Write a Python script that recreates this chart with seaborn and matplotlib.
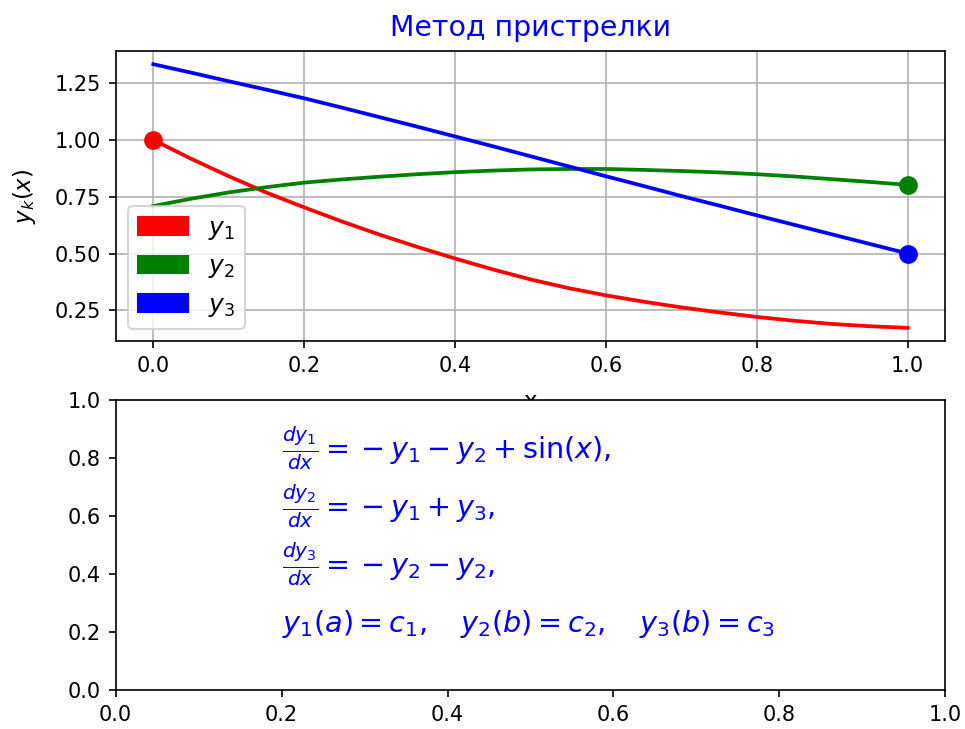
import matplotlib
matplotlib.use("Agg")
import matplotlib.pyplot as plt
from matplotlib.patches import Patch
import pandas as pd
import seaborn as sns

# Shooting-method solution of the boundary value problem on [0, 1]
x_vals = [0.00, 0.05, 0.10, 0.15, 0.20, 0.25, 0.30, 0.35, 0.40, 0.45, 0.50,
          0.55, 0.60, 0.65, 0.70, 0.75, 0.80, 0.85, 0.90, 0.95, 1.00]
y1_vals = [1.000, 0.917, 0.840, 0.768, 0.703, 0.641, 0.583, 0.529, 0.478, 0.430, 0.386,
           0.348, 0.316, 0.288, 0.263, 0.241, 0.221, 0.204, 0.190, 0.180, 0.173]
y2_vals = [0.709, 0.741, 0.769, 0.792, 0.812, 0.826, 0.838, 0.849, 0.858, 0.865, 0.870,
           0.872, 0.872, 0.868, 0.863, 0.857, 0.849, 0.839, 0.827, 0.815, 0.802]
y3_vals = [1.333, 1.296, 1.258, 1.221, 1.183, 1.142, 1.100, 1.058, 1.015, 0.972, 0.928,
           0.884, 0.840, 0.797, 0.753, 0.711, 0.668, 0.626, 0.584, 0.542, 0.500]

series_names = ["$y_1$", "$y_2$", "$y_3$"]
series_colors = ["red", "green", "blue"]

# Boundary conditions: y1(a)=c1, y2(b)=c2, y3(b)=c3
bc_x = [0.0, 1.0, 1.0]
bc_y = [1.0, 0.8, 0.5]

title_text = "Метод пристрелки"
equations = [
    r"$\frac{dy_1}{dx} = {} - y_1 - y_2 + \sin(x),$",
    r"$\frac{dy_2}{dx} = {} - y_1 + y_3,$",
    r"$\frac{dy_3}{dx} = {} - y_2 - y_2,$",
    r"$y_1(a) = c_1, \quad y_2(b) = c_2, \quad y_3(b) = c_3$",
]
eq_y = [0.8, 0.6, 0.4, 0.2]

plt.style.use("default")
plt.rcParams["font.family"] = ["DejaVu Sans"]

df = pd.DataFrame({
    "x": x_vals * 3,
    "y": y1_vals + y2_vals + y3_vals,
    "series": [series_names[0]] * len(x_vals)
    + [series_names[1]] * len(x_vals)
    + [series_names[2]] * len(x_vals),
})

fig = plt.figure(figsize=(965 / 150, 729 / 150), dpi=150)
ax1 = fig.add_axes([0.1198, 0.5322, 0.8599, 0.3978])
ax2 = fig.add_axes([0.1198, 0.0535, 0.8599, 0.3978])

sns.lineplot(data=df, x="x", y="y", hue="series", palette=series_colors,
             sort=False, linewidth=1.8, legend=False, ax=ax1)
for bx, by, c in zip(bc_x, bc_y, series_colors):
    ax1.plot([bx], [by], "o", color=c, markersize=8)

ax1.grid(True)
ax1.set_title(title_text, color="blue", fontsize=13.6, pad=7)
ax1.set_xlabel("x", fontsize=11, labelpad=7)
ax1.set_ylabel("$y_k(x)$", fontsize=11, labelpad=8)

handles = [Patch(color=c, label=n) for c, n in zip(series_colors, series_names)]
ax1.legend(handles=handles, loc="lower left", fontsize=12)

ax2.set_xlim(0, 1)
ax2.set_ylim(0, 1)
for txt, ty in zip(equations, eq_y):
    ax2.text(0.2, ty, txt, color="blue", fontsize=13.8, transform=ax2.transAxes)

fig.savefig("out.png", dpi=150)
